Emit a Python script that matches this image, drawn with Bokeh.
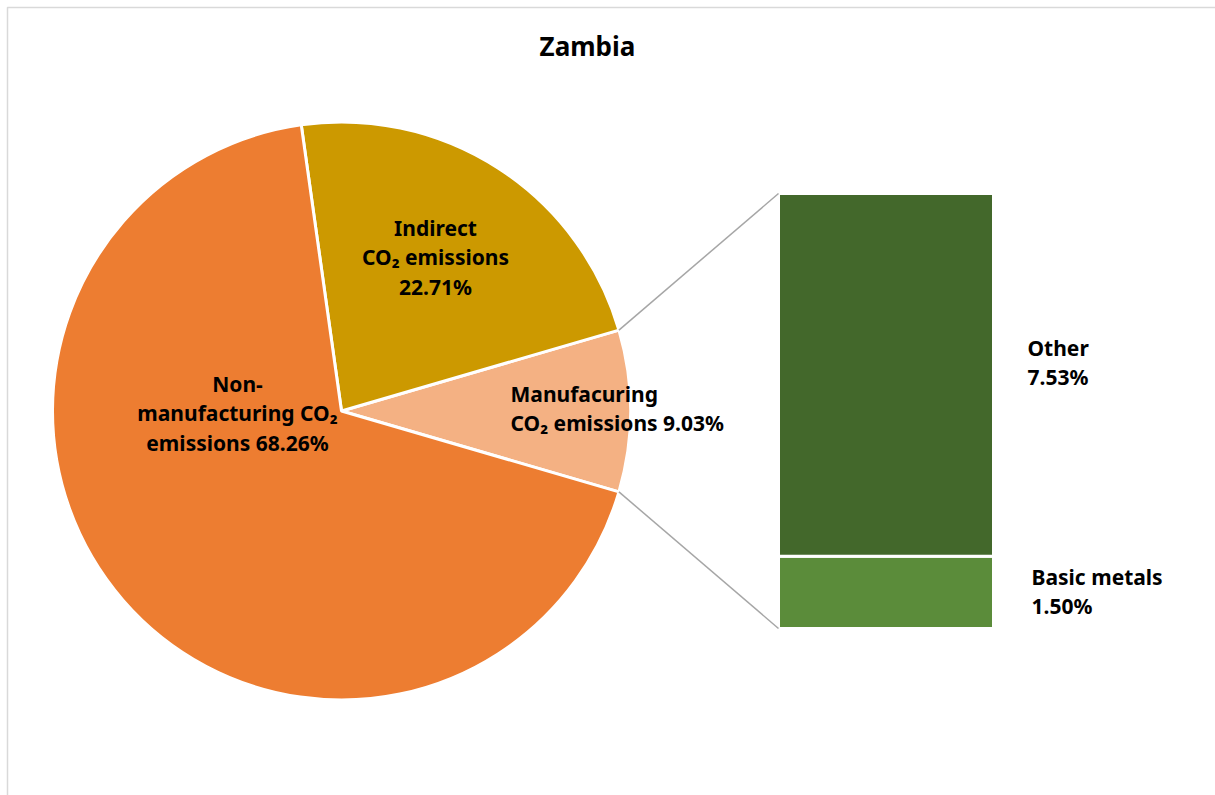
import math
from bokeh.plotting import figure
from bokeh.models import Range1d
from bokeh.core.properties import value
from bokeh.embed import file_html
from bokeh.resources import INLINE

# ---- data ----
title_text = "Zambia"
pie_labels = ["Manufacuring\nCO\u2082 emissions 9.03%", "Indirect\nCO\u2082 emissions\n22.71%",
              "Non-\nmanufacturing CO\u2082\nemissions 68.26%"]
pie_values = [9.03, 22.71, 68.26]
pie_colors = ["#F4B183", "#CC9900", "#ED7D31"]

bar_labels = ["Basic metals\n1.50%", "Other\n7.53%"]
bar_values = [1.50, 7.53]
bar_colors = ["#5B8C3A", "#43682B"]

W, H = 1215, 795
FONT = value("Noto Sans")

p = figure(width=W, height=H, output_backend="svg", toolbar_location=None,
           x_range=Range1d(0, W), y_range=Range1d(0, H),
           x_axis_type=None, y_axis_type=None, min_border=0)
p.outline_line_color = None
p.grid.visible = False
p.background_fill_color = "white"
p.border_fill_color = "white"

def Y(py):
    return H - py

# outer border
p.quad(left=[7], right=[W + 10], top=[Y(7)], bottom=[Y(H + 10)],
       fill_color=None, line_color="#D9D9D9", line_width=1.5)

# ---- pie ----
cx, cy, R = 341, Y(410.5), 289
total = sum(pie_values)
angles = [v / total * 2 * math.pi for v in pie_values]
start0 = -angles[0] / 2
starts, ends = [], []
a = start0
for ang in angles:
    starts.append(a)
    ends.append(a + ang)
    a += ang
p.wedge(x=[cx] * 3, y=[cy] * 3, radius=R, start_angle=starts, end_angle=ends,
        fill_color=pie_colors, line_color="white", line_width=3)

# ---- stacked bar ----
bx0, bx1 = 778, 993
b_bottom, b_top = Y(628), Y(193)
scale = (b_top - b_bottom) / sum(bar_values)
bottoms, tops = [], []
acc = b_bottom
for v in bar_values:
    bottoms.append(acc)
    tops.append(acc + v * scale)
    acc += v * scale
p.quad(left=[bx0] * 2, right=[bx1] * 2, bottom=bottoms, top=tops,
       fill_color=bar_colors, line_color="white", line_width=3)

# connector lines
ex_top = cx + R * math.cos(ends[0]); ey_top = cy + R * math.sin(ends[0])
ex_bot = cx + R * math.cos(starts[0]); ey_bot = cy + R * math.sin(starts[0])
p.segment(x0=[ex_top, ex_bot], y0=[ey_top, ey_bot], x1=[bx0, bx0], y1=[b_top, b_bottom],
          line_color="#A6A6A6", line_width=1.5)

# ---- labels ----
FS = "21px"
LH = 1.05
p.text(x=[587], y=[Y(45)], text=[title_text], text_font=FONT, text_font_style="bold",
       text_font_size="26px", text_align="center", text_baseline="middle", text_color="black")

p.text(x=[510], y=[Y(408)], text=[pie_labels[0]], text_font=FONT, text_font_style="bold",
       text_font_size=FS, text_align="left", text_baseline="middle", text_line_height=LH)
p.text(x=[435], y=[Y(257)], text=[pie_labels[1]], text_font=FONT, text_font_style="bold",
       text_font_size=FS, text_align="center", text_baseline="middle", text_line_height=LH)
p.text(x=[237], y=[Y(413)], text=[pie_labels[2]], text_font=FONT, text_font_style="bold",
       text_font_size=FS, text_align="center", text_baseline="middle", text_line_height=LH)

p.text(x=[1031], y=[Y(591)], text=[bar_labels[0]], text_font=FONT, text_font_style="bold",
       text_font_size=FS, text_align="left", text_baseline="middle", text_line_height=LH)
p.text(x=[1027], y=[Y(362)], text=[bar_labels[1]], text_font=FONT, text_font_style="bold",
       text_font_size=FS, text_align="left", text_baseline="middle", text_line_height=LH)

open("out.html", "w").write(file_html(p, INLINE))
